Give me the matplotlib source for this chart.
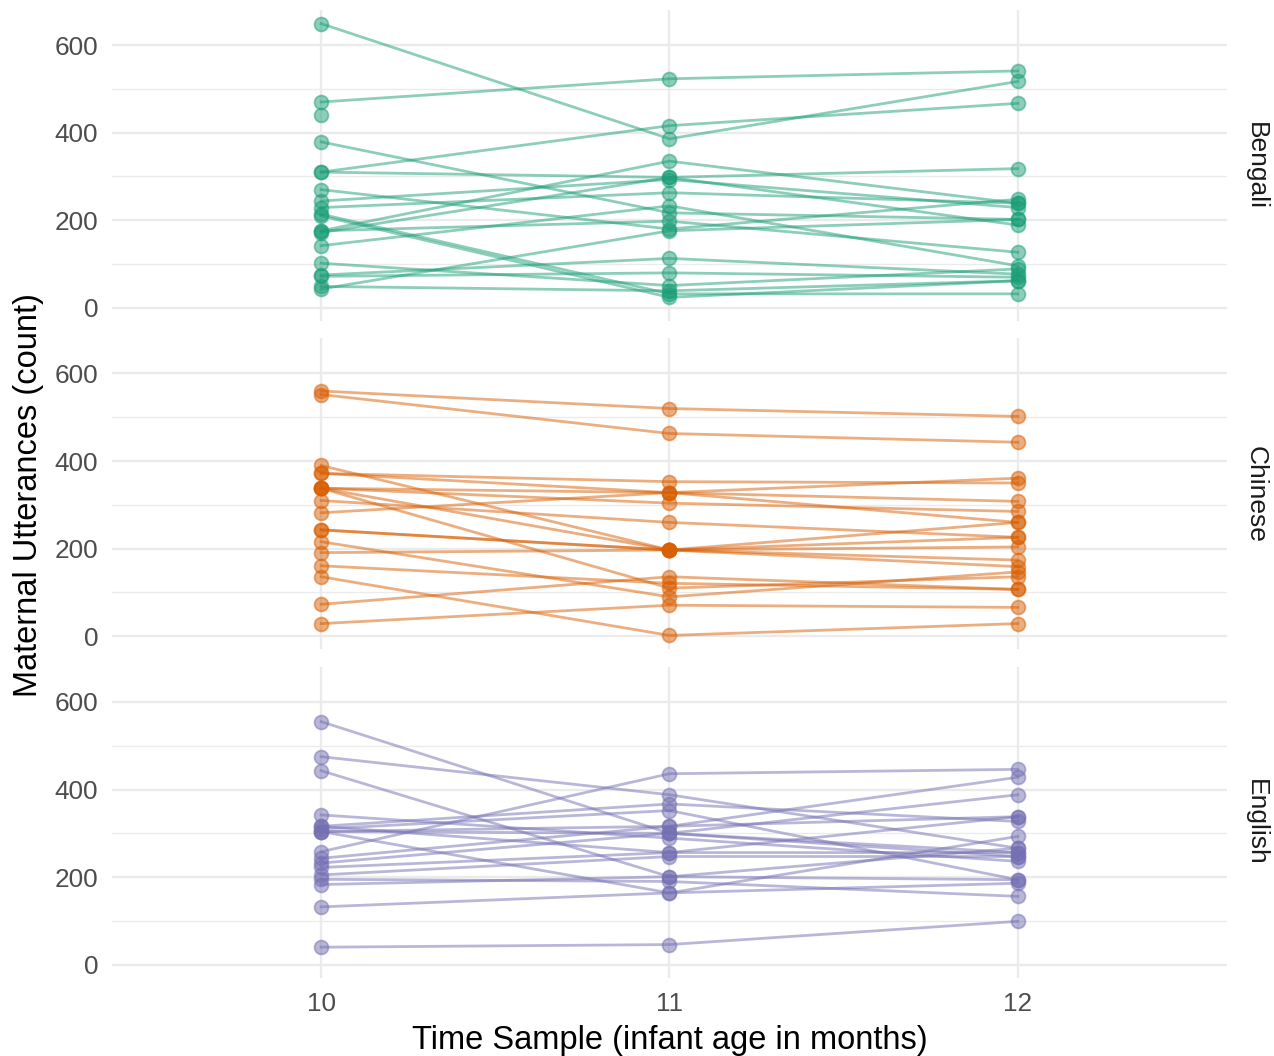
import numpy as np
import matplotlib
matplotlib.use('Agg')
import matplotlib.pyplot as plt
from matplotlib.ticker import MultipleLocator

plt.rcParams['font.family'] = ['Liberation Sans', 'DejaVu Sans']

# 시간 (개월)
months = [10, 11, 12]
languages = ['Bengali', 'Chinese', 'English']
colors = ['#1B9E77', '#D95F02', '#7570B3']

nan = np.nan

# 각 행 = 한 명의 엄마 (10, 11, 12개월)
bengali = [
    [649, 386, 517],
    [470, 523, 541],
    [441, nan, nan],
    [379, 217, 202],
    [310, 416, 467],
    [310, 298, 318],
    [270, 180, 248],
    [244, 293, 229],
    [229, 263, 239],
    [214, 32, 32],
    [210, 24, 62],
    [176, 335, 239],
    [172, 298, 189],
    [176, 198, 127],
    [142, 233, 96],
    [102, 51, 89],
    [75, 113, 77],
    [72, 80, 70],
    [49, 39, 62],
    [43, 176, 202],
]

chinese = [
    [560, 520, 502],
    [552, 463, 443],
    [390, 197, 174],
    [372, 328, 260],
    [372, 353, 350],
    [338, 328, 308],
    [338, 304, 285],
    [338, 197, 226],
    [338, 110, 136],
    [310, 260, 226],
    [282, 328, 361],
    [243, 197, 260],
    [243, 197, 204],
    [216, 90, 147],
    [191, 197, 159],
    [161, 121, 107],
    [136, 2, 29],
    [73, 136, 107],
    [29, 71, 66],
]

english = [
    [555, 300, 247],
    [475, 388, 266],
    [443, 201, 194],
    [342, 289, 236],
    [316, 367, 327],
    [310, 352, 194],
    [304, 316, 338],
    [304, 300, 256],
    [258, 436, 446],
    [243, 316, 428],
    [232, 300, 388],
    [222, 256, 338],
    [205, 247, 247],
    [183, 201, 266],
    [195, 190, 156],
    [132, 164, 186],
    [40, 46, 99],
    [304, 164, 293],
    [316, 256, 256],
]

data = [bengali, chinese, english]

fig, axes = plt.subplots(3, 1, figsize=(12.74, 10.56), dpi=100, sharex=True)
fig.subplots_adjust(left=0.088, right=0.963, top=0.9905, bottom=0.074, hspace=0.056)

for ax, lang, col, rows in zip(axes, languages, colors, data):
    for row in rows:
        ax.plot(months, row, '-o', color=col, alpha=0.5, lw=2.0,
                ms=10, mec=col, mew=1.3)

    ax.set_xlim(9.4, 12.6)
    ax.set_ylim(-30, 680)
    ax.set_yticks([0, 200, 400, 600])
    ax.yaxis.set_minor_locator(MultipleLocator(100))
    ax.set_xticks(months)
    ax.grid(True, which='major', color='#EBEBEB', lw=1.7)
    ax.grid(True, which='minor', axis='y', color='#EBEBEB', lw=1.0)
    ax.set_axisbelow(True)
    for s in ax.spines.values():
        s.set_visible(False)
    ax.tick_params(which='both', length=0, labelsize=18.8, colors='#4D4D4D', pad=10)
    ax.tick_params(axis='x', colors='#EBEBEB', labelcolor='#4D4D4D')

    # 오른쪽 facet 라벨
    ax.text(1.026, 0.5, lang, transform=ax.transAxes, rotation=-90,
            ha='center', va='center', fontsize=19, color='#1A1A1A')

fig.text(0.022, 0.531, 'Maternal Utterances (count)', rotation=90,
         ha='center', va='center', fontsize=23.5)
axes[-1].set_xlabel('Time Sample (infant age in months)', fontsize=23.5, labelpad=7)

fig.savefig('out.png', dpi=100)
